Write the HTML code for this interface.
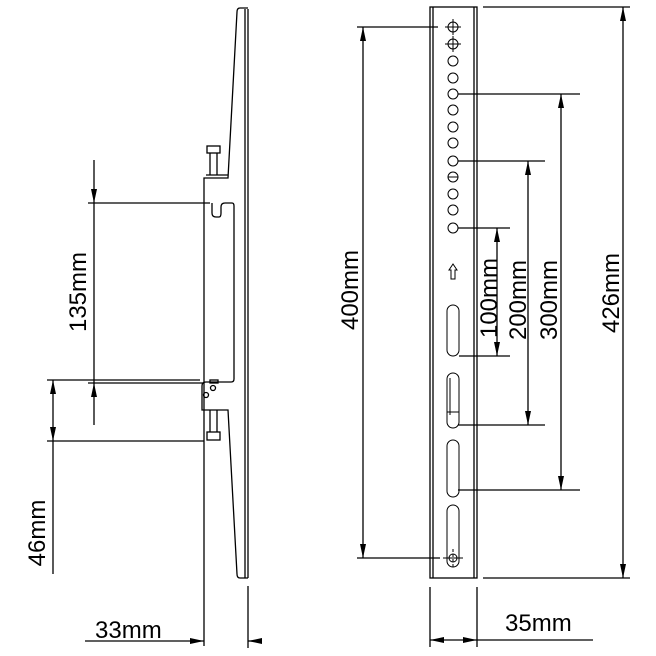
<!DOCTYPE html>
<html><head><meta charset="utf-8"><style>html,body{margin:0;padding:0;background:#fff}svg{display:block}text{font-family:"Liberation Sans",sans-serif;font-size:24px;fill:#000}</style></head><body>
<svg width="656" height="656" viewBox="0 0 656 656" xmlns="http://www.w3.org/2000/svg">
<defs>
<marker id="a" viewBox="0 0 14 6" refX="14" refY="3" markerWidth="14" markerHeight="6" markerUnits="userSpaceOnUse" orient="auto"><path d="M0,0 L14,3 L0,6 Z" fill="#000"/></marker>
</defs>
<g stroke="#000" stroke-width="1.3" fill="none">
<line x1="245" y1="9" x2="245" y2="578"/>
<line x1="248" y1="9" x2="248" y2="578"/>
<path d="M248,8 L240,8 Q237,8 237,12 L228,178 L204,178 L204,646"/>
<path d="M248,578 L240,578 Q237,578 237,574 L228,410 L202,410 L202,386 Q202,382 206,382"/>
<line x1="206" y1="175" x2="228" y2="175"/>
<rect x="207" y="146" width="13" height="7"/>
<line x1="210" y1="153" x2="210" y2="175"/><line x1="217" y1="153" x2="217" y2="175"/>
<rect x="207" y="432" width="13" height="8"/>
<line x1="210" y1="410" x2="210" y2="432"/><line x1="217" y1="410" x2="217" y2="432"/>
<path d="M212,203 L212,213 Q212,217 216,217 L219,217 Q221,217 221,213 L221,207 Q221,203 225,203 L232,203 Q234,203 234,206 L234,379 Q234,382 231,382 L206,382"/>
<circle cx="213" cy="388" r="2.5"/><circle cx="206" cy="395" r="2.5"/>
<rect x="210" y="380" width="8" height="3"/>
<line x1="88" y1="203" x2="210" y2="203"/>
<line x1="88" y1="383" x2="204" y2="383"/>
<line x1="47" y1="380" x2="200" y2="380"/>
<line x1="47" y1="441" x2="204" y2="441"/>
<line x1="94" y1="160" x2="94" y2="203" marker-end="url(#a)"/>
<line x1="94" y1="203" x2="94" y2="383"/>
<line x1="94" y1="425" x2="94" y2="383" marker-end="url(#a)"/>
<line x1="53" y1="410" x2="53" y2="380" marker-end="url(#a)"/>
<line x1="53" y1="410" x2="53" y2="441" marker-end="url(#a)"/>
<line x1="53" y1="441" x2="53" y2="574"/>
<line x1="248" y1="586" x2="248" y2="648"/>
<line x1="85" y1="641" x2="204" y2="641" marker-end="url(#a)"/>
<line x1="262" y1="641" x2="248" y2="641" marker-end="url(#a)"/>
<rect x="430" y="7" width="47" height="571"/>
<line x1="433" y1="7" x2="433" y2="578"/>
<line x1="474" y1="7" x2="474" y2="578"/>
<g stroke-width="1">
<circle cx="453" cy="27" r="5"/><line x1="445" y1="27" x2="461" y2="27"/><line x1="453" y1="19" x2="453" y2="35"/>
<circle cx="453" cy="44" r="5"/><line x1="445" y1="44" x2="461" y2="44"/><line x1="453" y1="36" x2="453" y2="52"/>
<circle cx="453" cy="61" r="5"/><circle cx="453" cy="78" r="5"/><circle cx="453" cy="94" r="5"/>
<circle cx="453" cy="110" r="5"/><circle cx="453" cy="127" r="5"/><circle cx="453" cy="143" r="5"/>
<circle cx="453" cy="161" r="5"/><circle cx="453" cy="177" r="5"/><line x1="448" y1="177" x2="458" y2="177"/>
<circle cx="453" cy="194" r="5"/><circle cx="453" cy="210" r="5"/><circle cx="453" cy="228" r="5"/>
<path d="M453,264 L449,270 L451,270 L451,279 L455,279 L455,270 L457,270 Z"/>
<rect x="447" y="305" width="12" height="51" rx="6"/>
<rect x="447" y="373" width="12" height="55" rx="6"/><line x1="450" y1="378" x2="450" y2="415"/><line x1="447" y1="412" x2="459" y2="412"/>
<rect x="447" y="440" width="12" height="57" rx="6"/>
<rect x="447" y="505" width="12" height="62" rx="6"/>
<line x1="443" y1="558" x2="463" y2="558"/><line x1="453" y1="549" x2="453" y2="567" stroke-dasharray="3,2"/><circle cx="453" cy="558" r="4"/>
</g>
<line x1="357" y1="27" x2="438" y2="27"/>
<line x1="357" y1="558" x2="440" y2="558"/>
<line x1="363" y1="290" x2="363" y2="27" marker-end="url(#a)"/>
<line x1="363" y1="290" x2="363" y2="558" marker-end="url(#a)"/>
<line x1="483" y1="7" x2="630" y2="7"/>
<line x1="483" y1="578" x2="630" y2="578"/>
<line x1="623" y1="290" x2="623" y2="7" marker-end="url(#a)"/>
<line x1="623" y1="290" x2="623" y2="578" marker-end="url(#a)"/>
<line x1="458" y1="94" x2="580" y2="94"/>
<line x1="458" y1="490" x2="580" y2="490"/>
<line x1="561" y1="290" x2="561" y2="94" marker-end="url(#a)"/>
<line x1="561" y1="290" x2="561" y2="490" marker-end="url(#a)"/>
<line x1="458" y1="161" x2="545" y2="161"/>
<line x1="458" y1="425" x2="545" y2="425"/>
<line x1="528" y1="290" x2="528" y2="161" marker-end="url(#a)"/>
<line x1="528" y1="290" x2="528" y2="425" marker-end="url(#a)"/>
<line x1="458" y1="228" x2="510" y2="228"/>
<line x1="459" y1="356" x2="510" y2="356"/>
<line x1="497" y1="290" x2="497" y2="228" marker-end="url(#a)"/>
<line x1="497" y1="290" x2="497" y2="356" marker-end="url(#a)"/>
<line x1="430" y1="587" x2="430" y2="647"/>
<line x1="477" y1="587" x2="477" y2="647"/>
<line x1="453" y1="640" x2="430" y2="640" marker-end="url(#a)"/>
<line x1="453" y1="640" x2="477" y2="640" marker-end="url(#a)"/>
<line x1="477" y1="640" x2="593" y2="640"/>
</g>
<text transform="translate(86,292) rotate(-90)" text-anchor="middle">135mm</text>
<text transform="translate(45,533) rotate(-90)" text-anchor="middle">46mm</text>
<text x="95" y="638">33mm</text>
<text transform="translate(358,290) rotate(-90)" text-anchor="middle">400mm</text>
<text transform="translate(497,298) rotate(-90)" text-anchor="middle">100mm</text>
<text transform="translate(526,300) rotate(-90)" text-anchor="middle">200mm</text>
<text transform="translate(557,300) rotate(-90)" text-anchor="middle">300mm</text>
<text transform="translate(619,293) rotate(-90)" text-anchor="middle">426mm</text>
<text x="505" y="631">35mm</text>
</svg>
</body></html>
